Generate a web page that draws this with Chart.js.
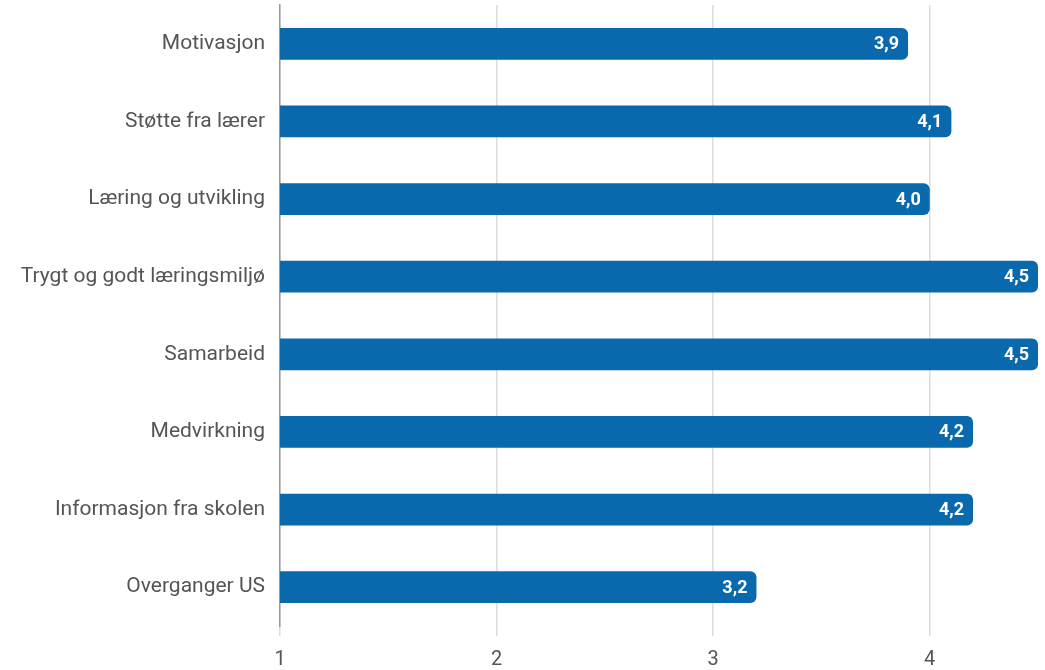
<!DOCTYPE html>
<html>
<head>
<meta charset="utf-8">
<script src="https://cdn.jsdelivr.net/npm/chart.js@4"></script>
<style>
  html, body { margin: 0; padding: 0; background: #ffffff; overflow: hidden; }
  canvas { display: block; }
</style>
</head>
<body>
<canvas id="c" width="1045" height="670"></canvas>
<script>
const categories = [
  "Motivasjon",
  "Støtte fra lærer",
  "Læring og utvikling",
  "Trygt og godt læringsmiljø",
  "Samarbeid",
  "Medvirkning",
  "Informasjon fra skolen",
  "Overganger US"
];
const values = [3.9, 4.1, 4.0, 4.5, 4.5, 4.2, 4.2, 3.2];
const xTickValues = [1, 2, 3, 4];
const xMin = 1;
const xMax = 4.5;

const barLabels = {
  id: 'barLabels',
  afterDatasetsDraw(chart) {
    const ctx = chart.ctx;
    const meta = chart.getDatasetMeta(0);
    ctx.save();
    ctx.fillStyle = '#ffffff';
    ctx.font = 'bold 18px Roboto';
    ctx.textAlign = 'right';
    ctx.textBaseline = 'middle';
    meta.data.forEach((bar, i) => {
      const txt = values[i].toFixed(1).replace('.', ',');
      ctx.fillText(txt, bar.x - 9, bar.y + 1);
    });
    ctx.restore();
  }
};

new Chart(document.getElementById('c'), {
  type: 'bar',
  data: {
    labels: categories,
    datasets: [{
      data: values,
      backgroundColor: '#0a69ad',
      borderRadius: 6,
      borderSkipped: 'start',
      categoryPercentage: 1,
      barPercentage: 0.41
    }]
  },
  options: {
    indexAxis: 'y',
    responsive: false,
    animation: false,
    layout: { padding: { top: 5, right: 7, bottom: 0, left: 0 } },
    plugins: { legend: { display: false }, tooltip: { enabled: false } },
    scales: {
      x: {
        min: xMin,
        max: xMax,
        afterBuildTicks: (s) => { s.ticks = xTickValues.map(v => ({ value: v })); },
        afterFit: (s) => { s.height = 44; s.paddingLeft = 0; s.paddingRight = 0; },
        grid: { color: '#dcdcdc', lineWidth: 1.5, drawTicks: true, tickLength: 10 },
        border: { display: false },
        ticks: {
          color: '#555555',
          font: { family: 'Roboto', size: 20 },
          padding: 12,
          callback: (v) => String(v)
        }
      },
      y: {
        afterFit: (s) => { s.width = 280; s.paddingTop = 0; s.paddingBottom = 0; },
        grid: { display: false, drawTicks: false, tickLength: 0 },
        border: { display: true, color: '#9a9a9a', width: 1.5 },
        ticks: {
          color: '#555555',
          font: { family: 'Roboto', size: 21 },
          padding: 15
        }
      }
    }
  },
  plugins: [barLabels]
});
</script>
</body>
</html>
